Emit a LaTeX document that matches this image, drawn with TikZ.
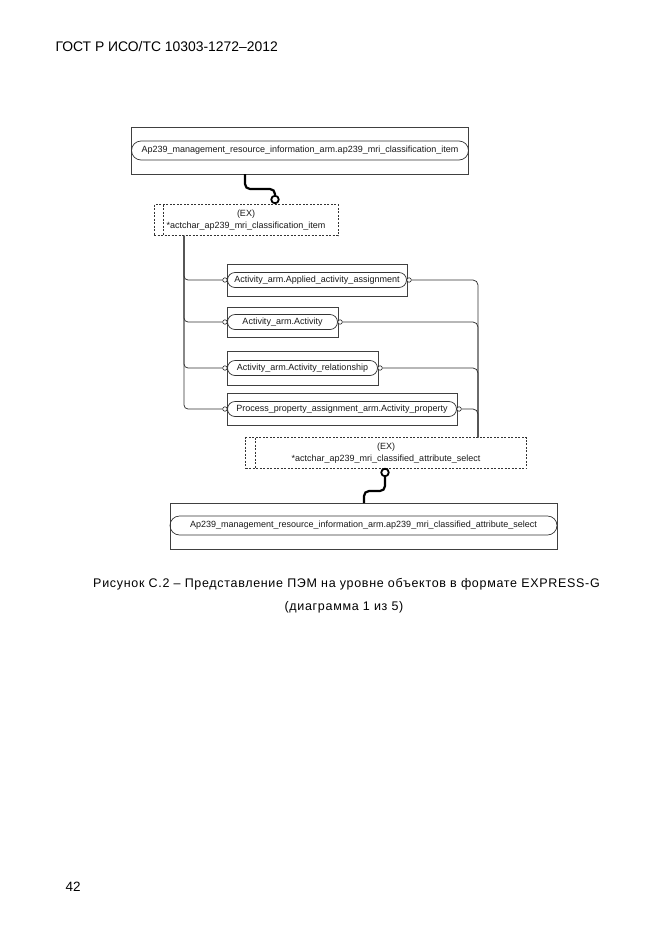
\documentclass[tikz,border=0pt]{standalone}
\usepackage{fontspec}
\setmainfont{Liberation Sans}
\newfontfamily\capfont[LetterSpace=5.5]{Liberation Sans}
\usetikzlibrary{shapes.misc}
\begin{document}
\begin{tikzpicture}[x=1pt,y=-1pt,
  frame/.style={draw=black!75, line width=0.8pt, inner sep=0pt, outer sep=0pt},
  pill/.style={rounded rectangle, draw=black!80, line width=0.7pt, minimum height=15pt, inner sep=0pt, outer sep=0pt, text=black!90, font=\fontsize{9}{10}\selectfont},
  bigpill/.style={pill, minimum height=19pt},
  exbox/.style={draw=black!80, dash pattern=on 2pt off 1.5pt, line width=0.7pt, inner sep=0pt, outer sep=0pt, align=center, text=black!90, font=\fontsize{9}{12}\selectfont},
  thinline/.style={draw=black!80, line width=0.75pt},
  thickc/.style={draw=black, line width=2.2pt, rounded corners=5pt},
  port/.style={circle, draw=black!85, fill=white, inner sep=0pt, minimum size=4.5pt, line width=0.6pt},
  bigport/.style={circle, draw=black, fill=white, inner sep=0pt, minimum size=7.5pt, line width=1.8pt}]
\useasboundingbox[fill=white] (0,0) rectangle (661,935);

% header and page number
\node[anchor=west, font=\fontsize{13.9}{16}\selectfont] (hdr) at (52,47) {ГОСТ Р ИСО/ТС 10303-1272–2012};
\node[anchor=west, font=\fontsize{13.5}{16}\selectfont] (pg) at (62,887) {42};

% top entity
\node[frame, minimum width=337pt, minimum height=47pt] (topbox) at (300,150.5) {};
\node[bigpill, minimum width=337pt] (toppill) at (300,150.5) {Ap239\_management\_resource\_information\_arm.ap239\_mri\_classification\_item};

% first select (EX)
\node[exbox, minimum width=184pt, minimum height=31pt] (ex1) at (246,220) {(EX)\\*actchar\_ap239\_mri\_classification\_item};
\draw[draw=black!80, dash pattern=on 2pt off 1.5pt, line width=0.7pt] ([xshift=9pt]ex1.north west) -- ([xshift=9pt]ex1.south west);
\node[bigport] (c1) at (275,199.5) {};
\draw[thickc] (topbox.south -| 245,0) -- (245,189) -- (275,189) -- (c1.north);

% branch entities
\node[frame, minimum width=180pt, minimum height=32pt] (b1box) at (317,280) {};
\node[pill, minimum width=179pt] (b1) at (317,280) {Activity\_arm.Applied\_activity\_assignment};
\node[frame, minimum width=111pt, minimum height=30pt] (b2box) at (282.5,322) {};
\node[pill, minimum width=110pt] (b2) at (282.5,322) {Activity\_arm.Activity};
\node[frame, minimum width=151pt, minimum height=34pt] (b3box) at (302.5,368) {};
\node[pill, minimum width=150pt] (b3) at (302.5,368) {Activity\_arm.Activity\_relationship};
\node[frame, minimum width=230pt, minimum height=32pt] (b4box) at (342,409) {};
\node[pill, minimum width=229pt] (b4) at (342,409) {Process\_property\_assignment\_arm.Activity\_property};

\foreach \b in {b1,b2,b3,b4}{
  \node[port, anchor=east] (\b l) at (\b.west) {};
  \node[port, anchor=west] (\b r) at (\b.east) {};
}

% second select (EX)
\node[exbox, minimum width=281pt, minimum height=31pt] (ex2) at (386,453) {(EX)\\*actchar\_ap239\_mri\_classified\_attribute\_select};
\draw[draw=black!80, dash pattern=on 2pt off 1.5pt, line width=0.7pt] ([xshift=10pt]ex2.north west) -- ([xshift=10pt]ex2.south west);

% trunk on the left
\coordinate (tk) at (184,235.5);
\foreach \b in {b1,b2,b3,b4}{
  \draw[thinline, rounded corners=4pt] (tk) |- (\b l.west);
}
% trunk on the right
\coordinate (rk) at (478,437.5);
\foreach \b in {b1,b2,b3,b4}{
  \draw[thinline, rounded corners=5pt] (\b r.east) -| (rk);
}

% bottom entity
\node[frame, minimum width=387pt, minimum height=46pt] (botbox) at (363.5,526) {};
\node[bigpill, minimum width=387pt] (botpill) at (363.5,525.5) {Ap239\_management\_resource\_information\_arm.ap239\_mri\_classified\_attribute\_select};
\node[bigport] (c2) at (385,472.5) {};
\draw[thickc] (c2.south) -- (385,491) -- (364,491) -- (botbox.north -| 364,0);

% caption
\node[font=\capfont\fontsize{12.5}{15}\selectfont] (cap1) at (346.5,584) {Рисунок С.2 – Представление ПЭМ на уровне объектов в формате EXPRESS-G};
\node[font=\capfont\fontsize{12.5}{15}\selectfont] (cap2) at (344,607) {(диаграмма 1 из 5)};
\end{tikzpicture}
\end{document}
